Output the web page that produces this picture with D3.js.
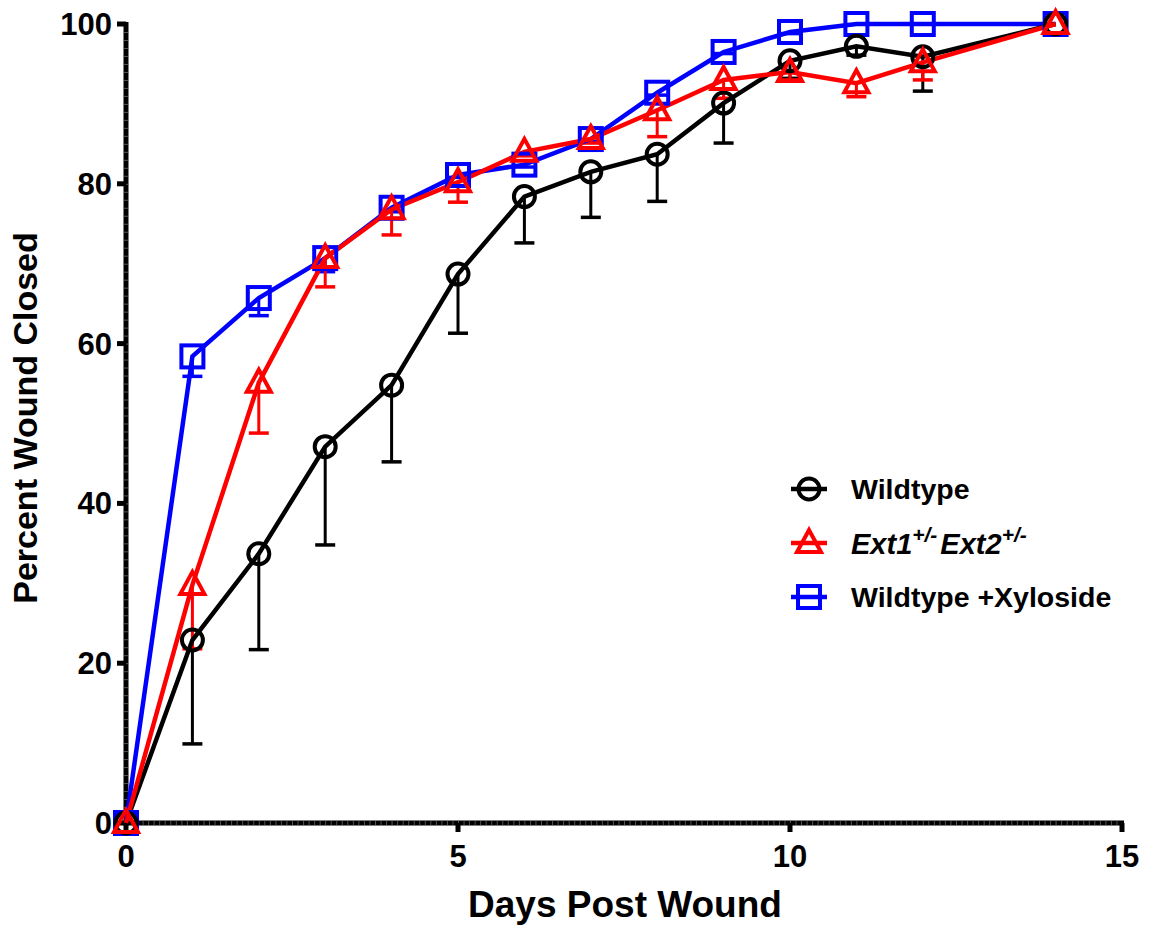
<!DOCTYPE html>
<html>
<head>
<meta charset="utf-8">
<script src="https://d3js.org/d3.v7.min.js"></script>
<style>
  body { margin: 0; background: #fff; }
  text { font-family: "Liberation Sans", Arial, sans-serif; font-weight: bold; }
</style>
</head>
<body>
<script>
// data
var days = [0, 1, 2, 3, 4, 5, 6, 7, 8, 9, 10, 11, 12, 14];
var wildtype    = [0, 22.9, 33.7, 47.1, 54.8, 68.7, 78.4, 81.5, 83.7, 90.1, 95.4, 97.2, 95.9, 100];
var wildtypeErr = [0, 13.0, 12.0, 12.3,  9.6,  7.4,  5.8,  5.7,  5.9,  5.0,  2.2,  1.1,  4.3, 0];
var ext         = [0, 29.8, 55.1, 70.7, 76.8, 80.2, 84.0, 85.6, 89.2, 93.0, 94.0, 92.6, 95.2, 100];
var extErr      = [0,  8.0,  6.3,  3.6,  3.2,  2.5,  0.5,  0.5,  3.3,  2.3,  1.0,  1.7,  2.2, 0];
var xylo        = [0, 58.4, 65.7, 70.7, 77.0, 81.1, 82.4, 85.6, 91.4, 96.5, 99.0, 100, 100, 100];
var xyloErr     = [0,  2.5,  2.2,  1.7,  0.5,  0.3,  0.3,  0.3,  0.3,  0.2,  0.2,  0, 0, 0];

var xTicks = [0, 5, 10, 15];
var yTicks = [0, 20, 40, 60, 80, 100];

var series = [
  {name: "Wildtype +Xyloside", vals: xylo, err: xyloErr, color: "#0000ff", shape: "square"},
  {name: "Wildtype", vals: wildtype, err: wildtypeErr, color: "#000000", shape: "circle"},
  {name: "Ext", vals: ext, err: extErr, color: "#ff0000", shape: "triangle"}
];

var width = 1151, height = 931;
var x = d3.scaleLinear().domain([0, 15]).range([126, 1122]);
var y = d3.scaleLinear().domain([0, 100]).range([823, 24]);

var svg = d3.select("body").append("svg")
    .attr("width", width).attr("height", height);

// axes
var axisW = 5;
svg.append("line").attr("x1", x(0)).attr("x2", x(0))
    .attr("y1", y(100) - 2).attr("y2", y(0) + axisW / 2)
    .attr("stroke", "#000").attr("stroke-width", axisW);
svg.append("line").attr("x1", x(0) - axisW / 2).attr("x2", x(15) + 2)
    .attr("y1", y(0)).attr("y2", y(0))
    .attr("stroke", "#000").attr("stroke-width", axisW);

// the little seams along the axes
svg.append("g").selectAll("line").data(d3.range(1, 100, 1)).enter().append("line")
    .attr("x1", x(0) - 2.5).attr("x2", x(0) + 2.5)
    .attr("y1", d => y(d) + 0.5).attr("y2", d => y(d) + 0.5)
    .attr("stroke", "#777").attr("stroke-width", 0.7);
svg.append("g").selectAll("line").data(d3.range(1, 180, 1)).enter().append("line")
    .attr("x1", d => x(d / 12) + 0.5).attr("x2", d => x(d / 12) + 0.5)
    .attr("y1", y(0) - 2.5).attr("y2", y(0) + 2.5)
    .attr("stroke", "#777").attr("stroke-width", 0.7);

// major ticks
svg.append("g").selectAll("line").data(yTicks).enter().append("line")
    .attr("x1", x(0) - 9).attr("x2", x(0))
    .attr("y1", d => y(d)).attr("y2", d => y(d))
    .attr("stroke", "#000").attr("stroke-width", axisW);
svg.append("g").selectAll("line").data(xTicks).enter().append("line")
    .attr("x1", d => x(d)).attr("x2", d => x(d))
    .attr("y1", y(0)).attr("y2", y(0) + 9)
    .attr("stroke", "#000").attr("stroke-width", axisW);

svg.append("g").selectAll("text").data(yTicks).enter().append("text")
    .attr("x", x(0) - 14).attr("y", d => y(d) + 11)
    .attr("text-anchor", "end").attr("font-size", 31)
    .text(d => d);
svg.append("g").selectAll("text").data(xTicks).enter().append("text")
    .attr("x", d => x(d)).attr("y", y(0) + 44)
    .attr("text-anchor", "middle").attr("font-size", 31)
    .text(d => d);

svg.append("text").attr("x", 625).attr("y", 917)
    .attr("text-anchor", "middle").attr("font-size", 37)
    .text("Days Post Wound");
svg.append("text").attr("transform", "translate(37,418) rotate(-90)")
    .attr("text-anchor", "middle").attr("font-size", 34)
    .text("Percent Wound Closed");

function marker(g, shape, color) {
  if (shape === "circle") {
    g.append("circle").attr("r", 10.5).attr("fill", "none")
      .attr("stroke", color).attr("stroke-width", 4);
  } else if (shape === "square") {
    g.append("rect").attr("x", -11).attr("y", -11).attr("width", 22).attr("height", 22)
      .attr("fill", "none").attr("stroke", color).attr("stroke-width", 4);
  } else {
    g.append("path").attr("d", "M0,-13L12,9L-12,9Z").attr("fill", "none")
      .attr("stroke", color).attr("stroke-width", 4).attr("stroke-linejoin", "miter");
  }
}

var line = d3.line().x(d => x(d[0])).y(d => y(d[1]));

// error bars (one-sided, downwards)
series.forEach(function(s) {
  var g = svg.append("g");
  days.forEach(function(d, i) {
    if (s.err[i] <= 0) return;
    var lo = s.vals[i] - s.err[i];
    g.append("line").attr("x1", x(d)).attr("x2", x(d))
      .attr("y1", y(s.vals[i])).attr("y2", y(lo))
      .attr("stroke", s.color).attr("stroke-width", 3);
    g.append("line").attr("x1", x(d) - 10).attr("x2", x(d) + 10)
      .attr("y1", y(lo)).attr("y2", y(lo))
      .attr("stroke", s.color).attr("stroke-width", 3.5);
  });
});

series.forEach(function(s) {
  svg.append("path").datum(days.map((d, i) => [d, s.vals[i]]))
    .attr("d", line).attr("fill", "none")
    .attr("stroke", s.color).attr("stroke-width", 4.5);
});

series.forEach(function(s) {
  days.forEach(function(d, i) {
    var g = svg.append("g").attr("transform", "translate(" + x(d) + "," + y(s.vals[i]) + ")");
    marker(g, s.shape, s.color);
  });
});

// legend
var legend = [
  {shape: "circle", color: "#000000", y: 489},
  {shape: "triangle", color: "#ff0000", y: 543},
  {shape: "square", color: "#0000ff", y: 597}
];
legend.forEach(function(l) {
  svg.append("line").attr("x1", 791).attr("x2", 827).attr("y1", l.y).attr("y2", l.y)
    .attr("stroke", l.color).attr("stroke-width", 4.5);
  var g = svg.append("g").attr("transform", "translate(809," + l.y + ")");
  marker(g, l.shape, l.color);
});
svg.append("text").attr("x", 851).attr("y", 499).attr("font-size", 28.5).text("Wildtype");
var t = svg.append("text").attr("x", 851).attr("y", 554).attr("font-size", 29)
    .attr("font-style", "italic");
t.append("tspan").text("Ext1");
t.append("tspan").attr("dy", -12).attr("font-size", 21).text("+/-");
t.append("tspan").attr("dx", 3).attr("dy", 12).text("Ext2");
t.append("tspan").attr("dy", -12).attr("font-size", 21).text("+/-");
svg.append("text").attr("x", 851).attr("y", 607).attr("font-size", 28.5).text("Wildtype +Xyloside");
</script>
</body>
</html>
